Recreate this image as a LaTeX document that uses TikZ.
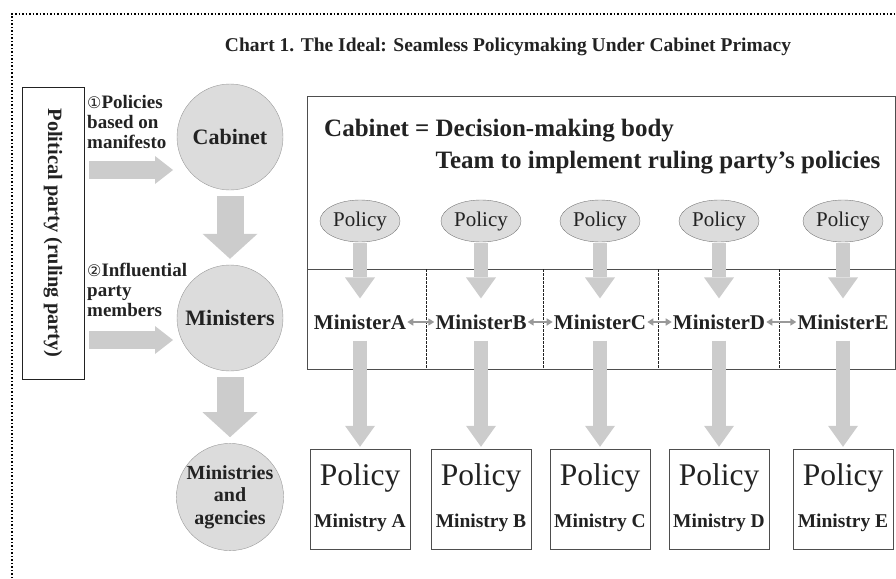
\documentclass[tikz,border=0pt]{standalone}
\usepackage{fontspec}
\setmainfont{Liberation Serif}
\newfontfamily\symfont{DejaVu Sans}
\usetikzlibrary{arrows.meta,shapes.geometric}

\definecolor{circfill}{HTML}{DCDCDC}
\definecolor{circline}{HTML}{9A9A9A}
\definecolor{arrowgray}{HTML}{CCCCCC}
\definecolor{linkgray}{HTML}{999999}
\definecolor{ink}{HTML}{222222}

\begin{document}
\begin{tikzpicture}[x=1pt,y=-1pt,
  every node/.style={text=ink},
  bigcirc/.style={circle,draw=circline,fill=circfill,minimum size=106pt,inner sep=0pt,
    align=center,font=\bfseries\fontsize{22}{22}\selectfont},
  policyell/.style={ellipse,draw=circline!80!black,fill=circfill,minimum width=80pt,
    minimum height=42pt,inner sep=0pt,font=\fontsize{21}{21}\selectfont},
  ministerlbl/.style={inner sep=1pt,font=\bfseries\fontsize{21}{21}\selectfont},
  ministrybox/.style={draw=ink!80,minimum size=100pt,inner sep=0pt},
  bigarrow/.style={arrowgray,line width=27pt,-{Triangle[width=55pt,length=25pt,line width=0pt]}},
  colarrow/.style={arrowgray,line width=14pt,-{Triangle[width=30pt,length=21pt,line width=0pt]}},
  sidearrow/.style={arrowgray,line width=18pt,-{Triangle[width=28pt,length=18pt,line width=0pt]}},
  linkarrow/.style={linkgray,line width=2.5pt,{Triangle[width=7pt,length=6pt]}-{Triangle[width=7pt,length=6pt]}},
]
\useasboundingbox (0,0) rectangle (896,578);
% frame
\draw[dotted,line width=1.5pt] (12,578) -- (12,14) -- (896,14);
% title
\node[font=\bfseries\fontsize{19.5}{20}\selectfont] (title) at (508,47)
  {Chart 1. The Ideal: Seamless Policymaking Under Cabinet Primacy};
% party
\node[draw=ink,rotate=-90,minimum width=292pt,minimum height=62pt,inner sep=0pt,
  font=\bfseries\fontsize{20.4}{22}\selectfont] (party) at (53,233) {Political party (ruling party)};
% circles
\node[bigcirc] (cab) at (230,137) {Cabinet};
\node[bigcirc] (mins) at (230,318) {Ministers};
\node[bigcirc,font=\bfseries\fontsize{20}{22.5}\selectfont] (agen) at (230,497) {Ministries\\and\\agencies};
\draw[bigarrow,shorten <=6pt,shorten >=6pt] (cab) -- (mins);
\draw[bigarrow,shorten <=6pt,shorten >=6pt] (mins) -- (agen);
% party inputs
\node[anchor=north west,align=left,inner sep=0pt,font=\bfseries\fontsize{19}{20}\selectfont]
  (lbl1) at (87,95) {{\symfont\mdseries\fontsize{16}{16}\selectfont ①}Policies\\based on\\manifesto};
\node[anchor=north west,align=left,inner sep=0pt,font=\bfseries\fontsize{19}{20}\selectfont]
  (lbl2) at (87,263) {{\symfont\mdseries\fontsize{16}{16}\selectfont ②}Influential\\party\\members};
\coordinate (in1) at (173,170);
\coordinate (in2) at (173,340);
\draw[sidearrow,shorten <=5pt] (party.north |- in1) -- (in1);
\draw[sidearrow,shorten <=5pt] (party.north |- in2) -- (in2);
% cabinet box
\node[draw=ink!80,anchor=north west,minimum width=588pt,minimum height=273pt,inner sep=0pt]
  (cabbox) at (307,96) {};
\draw[ink!80] (307,269) -- (895,269);
\foreach \x in {426,543,658,779}
  \draw[ink,line width=0.6pt,dash pattern=on 2.5pt off 1.5pt] (\x,269) -- (\x,369);
\node[anchor=west,inner sep=0pt,font=\bfseries\fontsize{25}{32}\selectfont] (cabtxt) at (324,146)
  {\begin{tabular}{@{}r@{ }l@{}}Cabinet = & Decision-making body\\ & Team to implement ruling party's policies\end{tabular}};
% columns
\foreach \x/\l [count=\i] in {360/A,481/B,600/C,719/D,843/E}{
  \node[policyell] (pol\i) at (\x,221) {Policy};
  \node[ministerlbl] (min\i) at (\x,322) {Minister\l};
  \node[ministrybox] (mny\i) at (\x,499) {};
  \node[inner sep=0pt,font=\fontsize{31.5}{32}\selectfont] (mnyp\i) at (\x,478) {Policy};
  \node[inner sep=0pt,font=\bfseries\fontsize{19.5}{20}\selectfont] (mnyl\i) at (\x,523) {Ministry \l};
  \draw[colarrow,shorten <=1pt,shorten >=15pt] (pol\i) -- (min\i);
  \draw[colarrow,shorten <=10pt,shorten >=2pt] (min\i) -- (mny\i);
}
\foreach \i [evaluate=\i as \j using int(\i+1)] in {1,...,4}
  \draw[linkarrow] (min\i) -- (min\j);
\end{tikzpicture}
\end{document}
